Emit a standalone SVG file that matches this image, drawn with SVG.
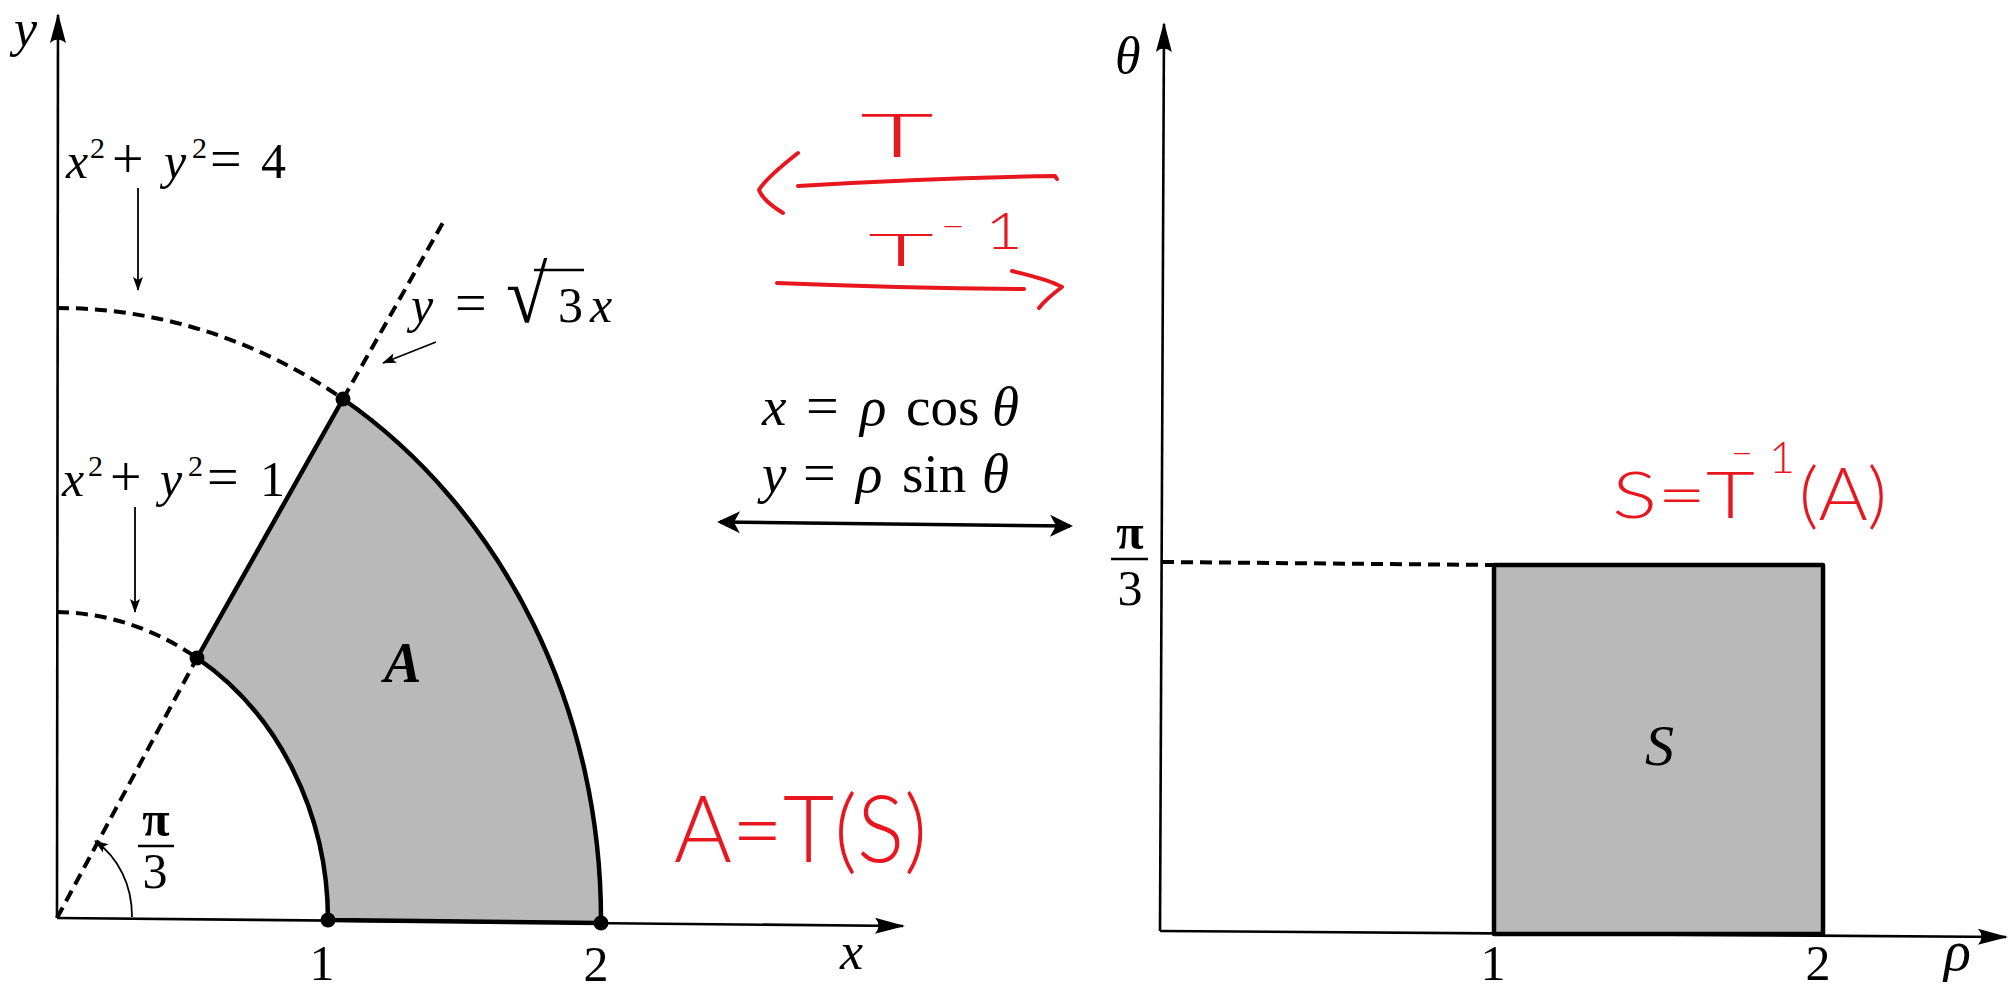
<svg xmlns="http://www.w3.org/2000/svg" width="2008" height="990" viewBox="0 0 2008 990">
<defs>
<style>
.ax{stroke:#000;stroke-width:2.6;fill:none}
.bd{stroke:#000;stroke-width:4.5;fill:#b9b9b9;stroke-linejoin:round}
.ds{stroke:#000;stroke-width:4;fill:none;stroke-dasharray:12 7}
.pt{fill:#000}
.t{font-family:"Liberation Serif","Times New Roman",serif;fill:#000}
.i{font-style:italic}
.red{font-family:Lato,"Liberation Sans",Arial,sans-serif;font-weight:300;fill:#e8161e}
.rs{stroke:#e8161e;stroke-width:4;fill:none;stroke-linecap:round;stroke-linejoin:round}
.thin{stroke:#000;stroke-width:1.8;fill:none}
.dbl{stroke:#000;stroke-width:3.5;fill:none}
</style>
<marker id="axh" markerUnits="userSpaceOnUse" markerWidth="40" markerHeight="24" refX="28" refY="10" orient="auto" overflow="visible">
<path d="M30,10 L0,2 Q7,10 0,18 Z" fill="#000"/>
</marker>
<marker id="dbh" markerUnits="userSpaceOnUse" markerWidth="30" markerHeight="24" refX="20" refY="11" orient="auto-start-reverse" overflow="visible">
<path d="M23,11 L0,0 L6,11 L0,22 Z" fill="#000"/>
</marker>
<marker id="smh" markerUnits="userSpaceOnUse" markerWidth="20" markerHeight="12" refX="13" refY="5" orient="auto" overflow="visible">
<path d="M14,5 L0,0 L3,5 L0,10 Z" fill="#000"/>
</marker>
</defs>
<rect width="2008" height="990" fill="#fff"/>

<g id="left-plot">
<g id="region-A">
<path class="bd" d="M197,658 L343,399 A544,612 0 0 1 601,923 L328,920 A272,307 0 0 0 197,658 Z"/>
</g>
<g id="curves">
<path class="ds" d="M57,308 A544,612 0 0 1 343,399"/>
<path class="ds" d="M57,612 A272,307 0 0 1 197,658"/>
<path class="ds" d="M57,918 L197,658"/>
<path class="ds" d="M343,399 L445,219"/>
</g>
<g id="points">
<circle class="pt" cx="197" cy="658" r="7.5"/>
<circle class="pt" cx="343" cy="399" r="7.5"/>
<circle class="pt" cx="328" cy="920" r="7.5"/>
<circle class="pt" cx="601" cy="923" r="7.5"/>
</g>
<g id="left-labels">
<text class="t i" x="14" y="46" font-size="52">y</text>
<text class="t i" x="840" y="969" font-size="52">x</text>
<text class="t" x="322" y="980" font-size="50" text-anchor="middle">1</text>
<text class="t" x="596" y="981" font-size="50" text-anchor="middle">2</text>
<text class="t" x="156" y="836" font-size="50" font-weight="bold" text-anchor="middle">π</text>
<line x1="138" y1="846" x2="174" y2="846" stroke="#000" stroke-width="2.5"/>
<text class="t" x="155" y="888" font-size="50" text-anchor="middle">3</text>
<text class="t i" x="384" y="682" font-size="56" font-weight="bold">A</text>
<text class="t" font-size="50"><tspan class="i" x="66" y="178">x</tspan><tspan x="90" y="158" font-size="30">2</tspan><tspan x="112" y="178" font-size="56">+</tspan><tspan class="i" x="164" y="178">y</tspan><tspan x="192" y="158" font-size="30">2</tspan><tspan x="210" y="178" font-size="56">=</tspan><tspan x="261" y="178">4</tspan></text>
<text class="t" font-size="50"><tspan class="i" x="62" y="496">x</tspan><tspan x="88" y="476" font-size="30">2</tspan><tspan x="110" y="496" font-size="56">+</tspan><tspan class="i" x="160" y="496">y</tspan><tspan x="188" y="476" font-size="30">2</tspan><tspan x="207" y="496" font-size="56">=</tspan><tspan x="260" y="496">1</tspan></text>
<text class="t" font-size="50"><tspan class="i" x="411" y="322">y</tspan><tspan x="455" y="322" font-size="56">=</tspan><tspan x="558" y="322">3</tspan><tspan class="i" x="590" y="322">x</tspan></text>
<text class="t" font-size="58" transform="translate(506,322) scale(1.3,1.4)">√</text>
<line x1="534" y1="270" x2="584" y2="270" stroke="#000" stroke-width="2.4"/>
</g>
</g>

<g id="right-plot">
<g id="region-S">
<rect x="1494" y="565" width="329" height="369" class="bd"/>
</g>
<path class="ds" d="M1162,562 L1494,565"/>
<g id="right-labels">
<text class="t i" x="1115" y="73" font-size="52">θ</text>
<text class="t" x="1130" y="549" font-size="50" font-weight="bold" text-anchor="middle">π</text>
<line x1="1111" y1="559" x2="1148" y2="559" stroke="#000" stroke-width="2.5"/>
<text class="t" x="1130" y="605" font-size="50" text-anchor="middle">3</text>
<text class="t i" x="1645" y="765" font-size="58">S</text>
<text class="t" x="1493" y="980" font-size="50" text-anchor="middle">1</text>
<text class="t" x="1818" y="980" font-size="50" text-anchor="middle">2</text>
<text class="t i" x="1944" y="970" font-size="56">ρ</text>
</g>
</g>

<g id="formulas">
<text class="t" y="425" font-size="55"><tspan class="i" x="762">x</tspan><tspan x="806" font-size="58">=</tspan><tspan class="i" x="860">ρ</tspan><tspan x="906">cos</tspan><tspan class="i" x="992">θ</tspan></text>
<text class="t" y="492" font-size="55"><tspan class="i" x="762">y</tspan><tspan x="803" font-size="58">=</tspan><tspan class="i" x="856">ρ</tspan><tspan x="902">sin</tspan><tspan class="i" x="982">θ</tspan></text>
</g>

<g id="annotations">
<text class="red" x="860" y="157" font-size="62" textLength="74" lengthAdjust="spacingAndGlyphs">T</text>
<text class="red" x="868" y="266" font-size="46" textLength="66" lengthAdjust="spacingAndGlyphs">T</text>
<text class="red" x="941" y="240" font-size="40" textLength="24" lengthAdjust="spacingAndGlyphs">−</text>
<text class="red" x="985" y="249" font-size="52" textLength="38" lengthAdjust="spacingAndGlyphs">1</text>
<text class="red" x="1612" y="518" font-size="66" textLength="143" lengthAdjust="spacingAndGlyphs">S=T</text>
<text class="red" x="1731" y="466" font-size="36" textLength="22" lengthAdjust="spacingAndGlyphs">−</text>
<text class="red" x="1769" y="473" font-size="44" textLength="26" lengthAdjust="spacingAndGlyphs">1</text>
<text class="red" x="1799" y="520" font-size="72" textLength="88" lengthAdjust="spacingAndGlyphs">(A)</text>
<text class="red" x="674" y="862" font-size="92" textLength="253" lengthAdjust="spacingAndGlyphs">A=T(S)</text>
</g>

<g id="connectors">
<path class="ax" d="M57,918 L58,15" marker-end="url(#axh)"/>
<path class="ax" d="M57,918 L903,926" marker-end="url(#axh)"/>
<path class="ax" d="M1160,931 L1164,24" marker-end="url(#axh)"/>
<path class="ax" d="M1160,931 L2006,937" marker-end="url(#axh)"/>
<path class="thin" d="M138,188 L138,290" marker-end="url(#smh)"/>
<path class="thin" d="M135,507 L135,612" marker-end="url(#smh)"/>
<path class="thin" d="M436,342 L383,363" marker-end="url(#smh)"/>
<path class="thin" d="M132,917 A75,87 0 0 0 95,841" marker-end="url(#smh)"/>
<path class="dbl" d="M720,522 L1070,526" marker-start="url(#dbh)" marker-end="url(#dbh)"/>
<path class="rs" d="M798,186 Q930,178 1055,176 L1057,179"/>
<path class="rs" d="M798,153 Q766,178 759,190 Q763,201 783,213"/>
<path class="rs" d="M777,283 Q900,288 1024,289"/>
<path class="rs" d="M1012,271 Q1050,280 1062,287 Q1046,299 1039,308"/>
</g>
</svg>
